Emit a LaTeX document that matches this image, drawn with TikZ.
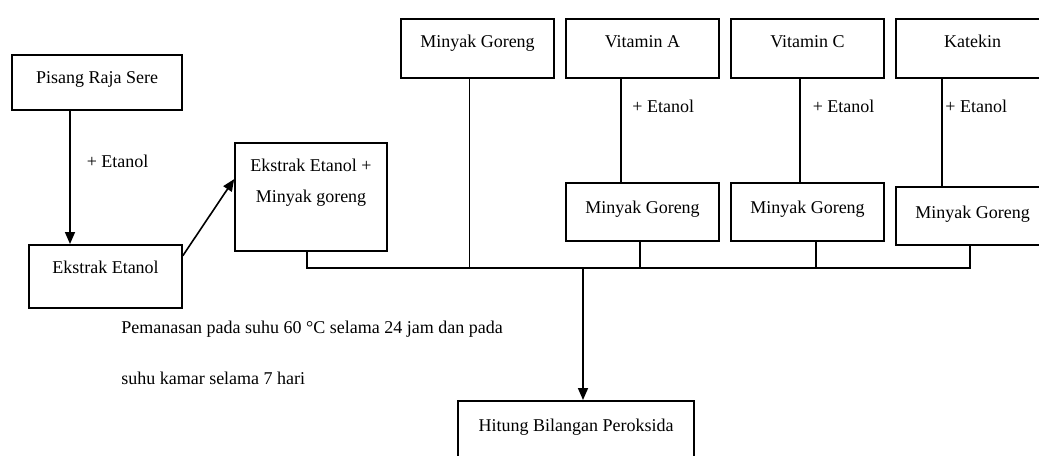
\documentclass[tikz,border=0pt]{standalone}
\usepackage{fontspec}
\setmainfont{Liberation Serif}
\usepackage{tikz}
\usetikzlibrary{arrows.meta,positioning,calc}

\begin{document}
\begin{tikzpicture}[x=0.75pt, y=-0.75pt,
        every node/.style={font=\fontsize{13.5}{16.2}\selectfont},
        kotak/.style={draw, line width=1.2pt, anchor=north, inner sep=0pt, align=center, text height=21.5pt},
        garis/.style={line width=1.2pt},
        panah/.style={garis, -{Triangle[length=9pt,width=7.5pt]}},
        ket/.style={anchor=west, inner sep=0pt}]
            \useasboundingbox (0,0) rectangle (1039,455);
            \clip (0,0) rectangle (1039,455);

            \node[kotak, minimum width=127.5pt, text depth=20pt] (pisang) at (97,54) {Pisang Raja Sere};
            \node[kotak, minimum width=114.75pt, text depth=26pt] (ekstrak) at (105.5,244) {Ekstrak Etanol};
            \node[kotak, minimum width=114pt, text height=45pt, text depth=36pt] (campur) at (311,142) {Ekstrak Etanol +\\[7.5pt]Minyak goreng};

            \node[kotak, minimum width=114.75pt, text depth=22.75pt] (mg0) at (477.5,18) {Minyak Goreng};
            \node[kotak, minimum width=114.75pt, text depth=22.75pt] (vita) at (642.5,18) {Vitamin A};
            \node[kotak, minimum width=114.75pt, text depth=22.75pt] (vitc) at (807.5,18) {Vitamin C};
            \node[kotak, minimum width=114.75pt, text depth=22.75pt] (katekin) at (972.5,18) {Katekin};

            \node[kotak, minimum width=114.75pt, text height=23pt, text depth=20.5pt] (mga) at (642.5,182) {Minyak Goreng};
            \node[kotak, minimum width=114.75pt, text height=23pt, text depth=20.5pt] (mgc) at (807.5,182) {Minyak Goreng};
            \node[kotak, minimum width=114.75pt, text height=23.5pt, text depth=20pt] (mgk) at (972.5,186) {Minyak Goreng};

            \node[kotak, minimum width=177pt, text height=23pt, text depth=29pt] (hitung) at (576,400) {Hitung Bilangan Peroksida};

            \node[anchor=base west, align=left, inner sep=0pt] (panas) at (121,384)
                {Pemanasan pada suhu 60 °C selama 24 jam dan pada\\[22pt]suhu kamar selama 7 hari};

            \coordinate (xp) at (70,0);
            \coordinate (xva) at (621,0);
            \coordinate (xvc) at (800,0);
            \coordinate (xvk) at (942,0);
            \coordinate (bl) at (307,268);
            \coordinate (b0) at (469.5,268);
            \coordinate (ba) at (640,268);
            \coordinate (bc) at (816,268);
            \coordinate (bk) at (970,268);
            \coordinate (bh) at (583,268);

            \draw[panah] (pisang.south -| xp) -- node[ket, pos=0.38, xshift=12pt] {+ Etanol} (ekstrak.north -| xp);
            \draw[panah] (ekstrak.15) -- (campur.167);

            \draw[garis] (vita.south -| xva) -- node[ket, pos=0.27, xshift=8pt] {+ Etanol} (mga.north -| xva);
            \draw[garis] (vitc.south -| xvc) -- node[ket, pos=0.27, xshift=9pt] {+ Etanol} (mgc.north -| xvc);
            \draw[garis] (katekin.south -| xvk) -- node[ket, pos=0.26, xshift=2pt] {+ Etanol} (mgk.north -| xvk);

            \draw[garis] (campur.south -| bl) -- (bl) -- (bk) -- (mgk.south -| bk);
            \draw[garis] (mg0.south -| b0) -- (b0);
            \draw[garis] (mga.south -| ba) -- (ba);
            \draw[garis] (mgc.south -| bc) -- (bc);
            \draw[panah] (bh) -- (hitung.north -| bh);
        \end{tikzpicture}
\end{document}
